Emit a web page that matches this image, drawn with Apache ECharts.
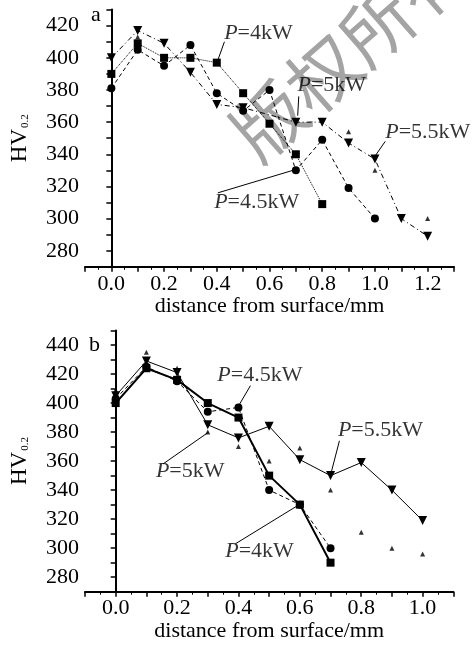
<!DOCTYPE html>
<html><head><meta charset="utf-8">
<script src="https://cdn.jsdelivr.net/npm/echarts@6/dist/echarts.min.js"></script>
<style>html,body{margin:0;padding:0;background:#fff}#c{width:476px;height:645px}</style>
</head><body><div id="c"></div>
<script>
// ---------- panel a ----------
const a4kW  = [[0,390],[0.1,409],[0.2,400],[0.3,400],[0.4,397],[0.5,378],[0.6,359],[0.7,340],[0.8,309]];
const a45kW = [[0,381],[0.1,405],[0.2,395],[0.3,408],[0.4,378],[0.5,367],[0.6,380],[0.7,330],[0.8,349],[0.9,319],[1.0,300]];
const a5kW  = [[0,400],[0.1,417],[0.2,409],[0.3,391],[0.4,371],[0.5,369],[0.7,360],[0.8,360],[0.9,347],[1.0,337],[1.1,300],[1.2,289]];
const a55kW = [[0.1,413],[0.9,354],[1.0,330],[1.2,300]];
const aLabelText = ['P=4kW','P=5kW','P=5.5kW','P=4.5kW'];
const aLabelPos  = [[0.428,415],[0.706,383],[1.039,354],[0.390,310]];
const aLeaders   = [[[0.429,410],[0.405,399]],[[0.711,376],[0.707,364]],[[1.039,348],[1.001,339]],[[0.404,316],[0.699,330.5]]];
// ---------- panel b ----------
const b4kW  = [[0,400],[0.1,424],[0.2,416],[0.3,400],[0.4,390],[0.5,350],[0.6,330],[0.7,290]];
const b45kW = [[0,403],[0.1,425],[0.2,415],[0.3,394],[0.4,397],[0.5,340],[0.6,330],[0.7,300]];
const b5kW  = [[0,409],[0.1,435],[0.2,424],[0.3,380],[0.4,370],[0.5,360],[0.6,369],[0.7,340],[0.8,311],[0.9,300],[1.0,296]];
const b55kW = [[0,405],[0.1,429],[0.2,421],[0.3,385],[0.4,376],[0.5,384],[0.6,361],[0.7,350],[0.8,359],[0.9,340],[1.0,319]];
const bLabelText = ['P=4.5kW','P=5.5kW','P=5kW','P=4kW'];
const bLabelPos  = [[0.331,419],[0.724,381],[0.131,353],[0.357,298]];
const bLeaders   = [[[0.439,412],[0.403,399]],[[0.729,374],[0.702,352]],[[0.154,358],[0.303,380]],[[0.39,303],[0.598,330]]];
// ticks
const xTicksA = [0,0.2,0.4,0.6,0.8,1.0,1.2];
const xTicksB = [0,0.2,0.4,0.6,0.8,1.0];
const yTicksA = [280,300,320,340,360,380,400,420];
const yTicksB = [280,300,320,340,360,380,400,420,440];

const FONT = "'Liberation Serif','Times New Roman',serif";
const inList = (list, v) => list.some(t => Math.abs(t - v) < 1e-6);

function xAxis(gi, max, ticks, gap) {
  return {
    type:'value', gridIndex:gi, min:-0.1, max:max, interval:0.1,
    axisLine:{show:true, lineStyle:{color:'#000', width:2}},
    axisTick:{show:true, inside:false, length:5, lineStyle:{color:'#000', width:1.5}},
    minorTick:{show:true, splitNumber:2, length:3, lineStyle:{color:'#000', width:1}},
    splitLine:{show:false},
    axisLabel:{fontFamily:FONT, fontSize:22, color:'#000', margin:6,
      formatter: v => inList(ticks, v) ? v.toFixed(1) : ''},
    name:'distance from surface/mm', nameLocation:'middle', nameGap:gap,
    nameTextStyle:{fontFamily:FONT, fontSize:22, color:'#000'}
  };
}
function yAxis(gi, max, ticks) {
  return {
    type:'value', gridIndex:gi, min:270, max:max, interval:10,
    axisLine:{show:true, lineStyle:{color:'#000', width:2}},
    axisTick:{show:true, inside:false, length:5, lineStyle:{color:'#000', width:1.5}},
    splitLine:{show:false},
    axisLabel:{fontFamily:FONT, fontSize:22, color:'#000', margin:6,
      formatter: v => inList(ticks, v) ? String(v) : ''},
    name:'{a|HV}{b|0.2}', nameLocation:'middle', nameGap:54,
    nameTextStyle:{color:'#000', rich:{
      a:{fontFamily:FONT, fontSize:23, color:'#000'},
      b:{fontFamily:FONT, fontSize:11, color:'#000', padding:[12,0,0,1]}
    }}
  };
}
function lineS(gi, data, sym, size, rot, ls) {
  return {type:'line', xAxisIndex:gi, yAxisIndex:gi, data:data, symbol:sym, symbolSize:size,
    symbolRotate:rot, showAllSymbol:true, itemStyle:{color:'#000'}, lineStyle:Object.assign({color:'#000'}, ls),
    z:3, animation:false};
}
function scatS(gi, data, sym, size) {
  return {type:'scatter', xAxisIndex:gi, yAxisIndex:gi, data:data, symbol:sym, symbolSize:size,
    itemStyle:{color:'#000'}, z:3, animation:false};
}
function labelS(gi, pos, text) {
  return {type:'scatter', xAxisIndex:gi, yAxisIndex:gi, symbolSize:0, silent:true, animation:false,
    data: pos.map((p,i)=>({value:[p[0],p[1]], name:text[i]})),
    label:{show:true, position:'right', distance:0,
      formatter: p => '{i|P}{n|' + p.name.slice(1) + '}',
      rich:{i:{fontFamily:FONT, fontSize:22, fontStyle:'italic', color:'#000'},
            n:{fontFamily:FONT, fontSize:22, color:'#000'}}}, z:5};
}
function leaderS(gi, segs) {
  return {type:'lines', coordinateSystem:'cartesian2d', xAxisIndex:gi, yAxisIndex:gi, silent:true,
    data: segs.map(s=>({coords:s})), lineStyle:{color:'#000', width:1, opacity:1}, symbol:'none', z:4, animation:false};
}

const chart = echarts.init(document.getElementById('c'), null, {renderer:'canvas'});
chart.setOption({
  backgroundColor:'#fff',
  animation:false,
  grid:[
    {left:83, top:9.6, width:371, height:257.2},
    {left:81.3, top:330.5, width:372, height:261.2}
  ],
  xAxis:[xAxis(0, 1.3, xTicksA, 24), xAxis(1, 1.1, xTicksB, 21)],
  yAxis:[yAxis(0, 430, yTicksA), yAxis(1, 450, yTicksB)],
  graphic:[
    {type:'text', left:91, top:4, style:{text:'a', font:'22px '+FONT, fill:'#000'}},
    {type:'text', left:89, top:334, style:{text:'b', font:'22px '+FONT, fill:'#000'}},
    {type:'text', x:350, y:50, rotation:0.72, z:1, zlevel:0,
      style:{text:'版权所有', font:'72px "Noto Sans CJK SC"', fill:'#a4a4a4', align:'center', verticalAlign:'middle'}}
  ],
  series:[
    lineS(0, a4kW, 'rect', 8, 0, {type:'dotted', width:1}),
    lineS(0, a45kW, 'circle', 8, 0, {type:[4,3], width:1}),
    lineS(0, a5kW, 'triangle', 9, 180, {type:[5,3,1,3], width:1}),
    scatS(0, a55kW, 'triangle', 5),
    labelS(0, aLabelPos, aLabelText),
    leaderS(0, aLeaders),
    lineS(1, b4kW, 'rect', 8, 0, {type:'solid', width:2}),
    lineS(1, b45kW, 'circle', 8, 0, {type:[4,3], width:1}),
    lineS(1, b55kW, 'triangle', 9, 180, {type:'solid', width:1}),
    scatS(1, b5kW, 'triangle', 5),
    labelS(1, bLabelPos, bLabelText),
    leaderS(1, bLeaders)
  ]
});
</script></body></html>
